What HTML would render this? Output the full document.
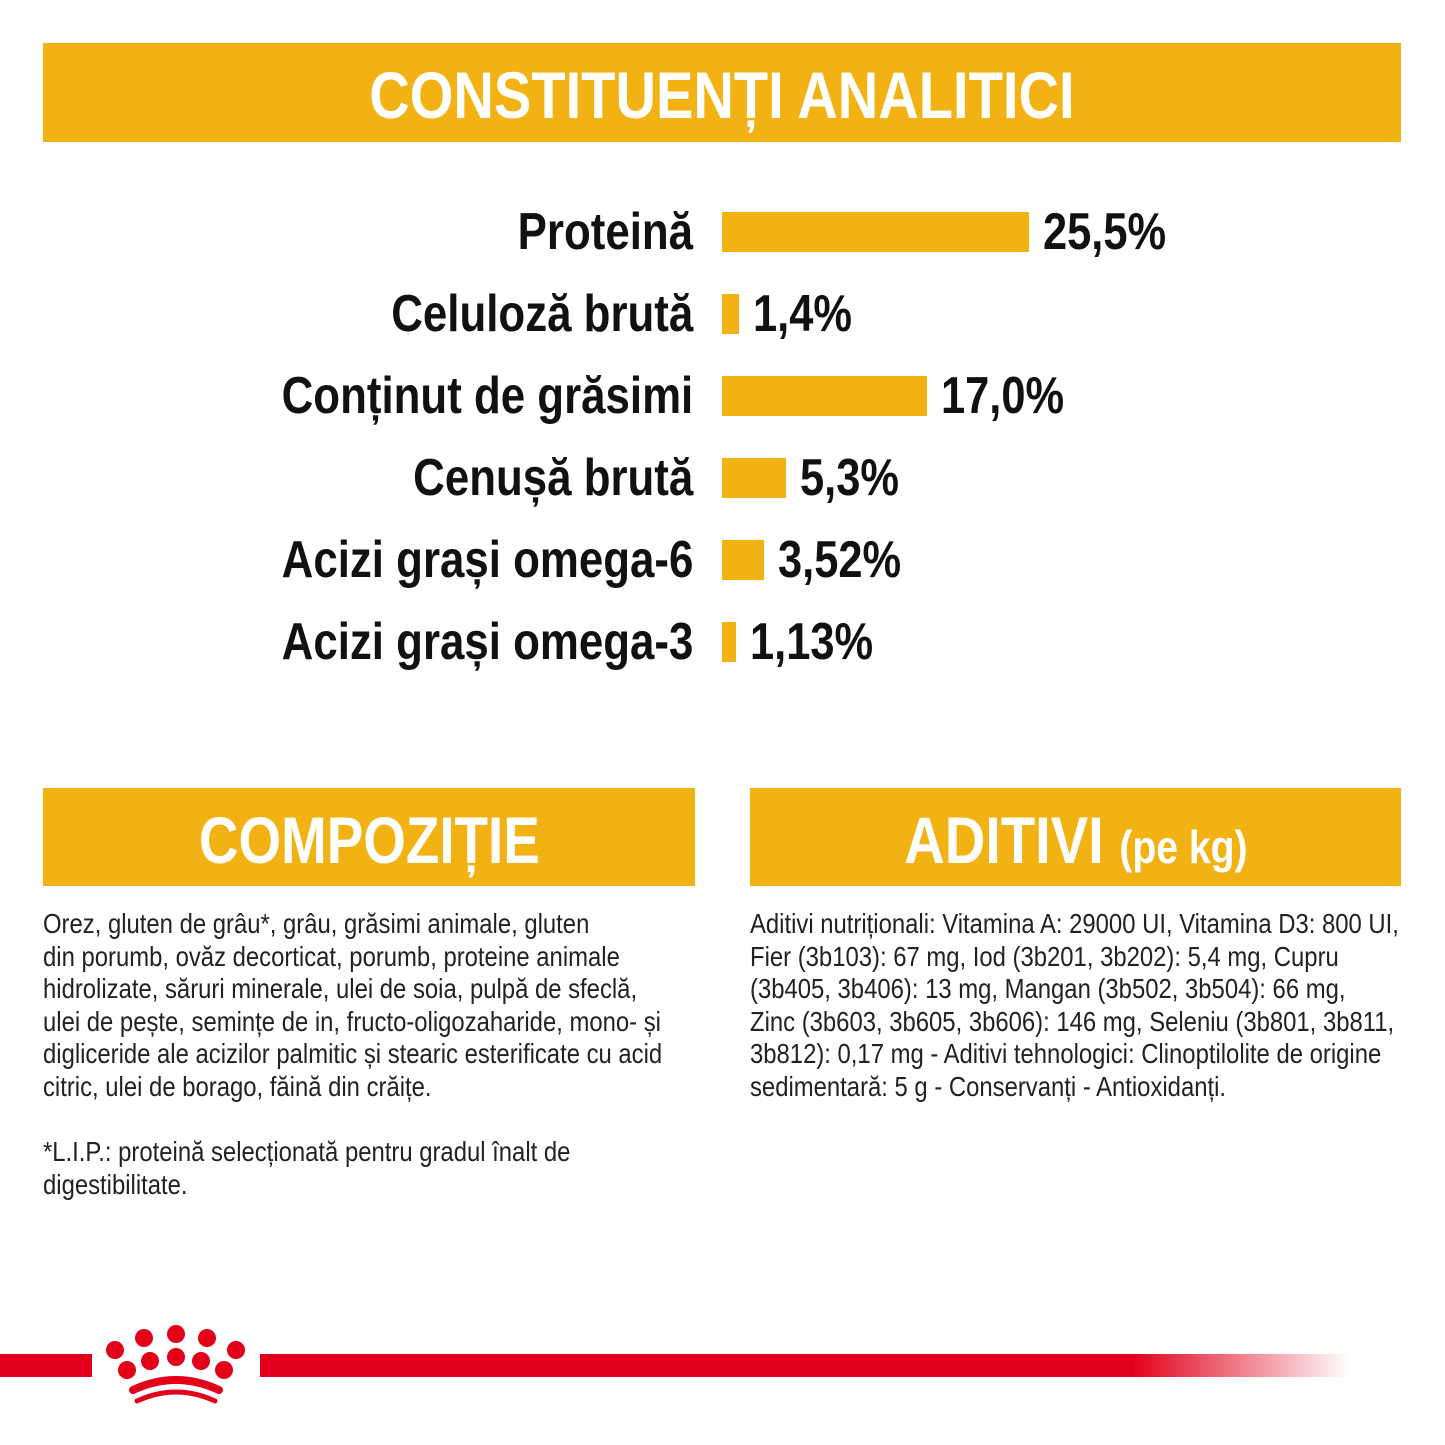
<!DOCTYPE html>
<html><head><meta charset="utf-8"><style>
body{margin:0;width:1445px;height:1445px;background:#fff;position:relative;overflow:hidden;font-family:"Liberation Sans",sans-serif;}
.band{position:absolute;background:#f2b213;color:#fff;font-weight:bold;text-align:center;}
.band span.s{display:inline-block;transform:scaleX(0.85);transform-origin:center;white-space:nowrap}
.lbl{position:absolute;right:752px;font-weight:bold;font-size:52px;color:#111;white-space:nowrap;line-height:50px;transform:scaleX(0.843);transform-origin:right center}
.val{position:absolute;font-weight:bold;font-size:52px;color:#111;white-space:nowrap;line-height:50px;transform:scaleX(0.835);transform-origin:left center}
.bar{position:absolute;background:#f2b213;height:40px}
.txt{position:absolute;font-size:28px;line-height:32.6px;color:#222;white-space:nowrap;transform:scaleX(0.852);transform-origin:left top}
</style></head><body>
<div class="band" style="left:43px;top:43px;width:1358px;height:99px;font-size:66px;line-height:104px"><span class="s">CONSTITUENȚI ANALITICI</span></div>
<div id="chart"></div>
<div class="band" style="left:43px;top:788px;width:652px;height:98px;font-size:66px;line-height:104px"><span class="s" style="transform:scaleX(0.83)">COMPOZIȚIE</span></div>
<div class="band" style="left:750px;top:788px;width:651px;height:98px;font-size:66px;line-height:104px"><span class="s">ADITIVI <span style="font-size:46px">(pe kg)</span></span></div>
<div class="txt" style="left:43px;top:908px">Orez, gluten de grâu*, grâu, grăsimi animale, gluten<br>din porumb, ovăz decorticat, porumb, proteine animale<br>hidrolizate, săruri minerale, ulei de soia, pulpă de sfeclă,<br>ulei de pește, semințe de in, fructo-oligozaharide, mono- și<br>digliceride ale acizilor palmitic și stearic esterificate cu acid<br>citric, ulei de borago, făină din crăițe.<br><br>*L.I.P.: proteină selecționată pentru gradul înalt de<br>digestibilitate.</div>
<div class="txt" style="left:750px;top:908px">Aditivi nutriționali: Vitamina A: 29000 UI, Vitamina D3: 800 UI,<br>Fier (3b103): 67 mg, Iod (3b201, 3b202): 5,4 mg, Cupru<br>(3b405, 3b406): 13 mg, Mangan (3b502, 3b504): 66 mg,<br>Zinc (3b603, 3b605, 3b606): 146 mg, Seleniu (3b801, 3b811,<br>3b812): 0,17 mg - Aditivi tehnologici: Clinoptilolite de origine<br>sedimentară: 5 g - Conservanți - Antioxidanți.</div>
<svg style="position:absolute;left:0;top:1310px" width="1445" height="100">
<defs><linearGradient id="g" x1="0" x2="1"><stop offset="0.8" stop-color="#e2001a"/><stop offset="1" stop-color="#e2001a" stop-opacity="0"/></linearGradient></defs>
<rect x="0" y="44" width="92" height="23" fill="#e2001a"/>
<rect x="260" y="44" width="1090" height="23" fill="url(#g)"/>
<g fill="#e2001a">
<circle cx="115" cy="40" r="9"/><circle cx="144" cy="28" r="9"/><circle cx="176" cy="24" r="9"/><circle cx="207" cy="28" r="9"/><circle cx="236" cy="40" r="9"/>
<circle cx="127" cy="60" r="9"/><circle cx="150" cy="51" r="9"/><circle cx="176" cy="47" r="9"/><circle cx="201" cy="51" r="9"/><circle cx="224" cy="60" r="9"/>
</g>
<path d="M133 80 Q176 60 219 80" stroke="#e2001a" stroke-width="8" fill="none" stroke-linecap="round"/>
<path d="M137 91 Q176 73 215 91" stroke="#e2001a" stroke-width="5" fill="none" stroke-linecap="round"/>
</svg>
<script>
const labels=["Proteină","Celuloză brută","Conținut de grăsimi","Cenușă brută","Acizi grași omega-6","Acizi grași omega-3"];
const values=[25.5,1.4,17.0,5.3,3.52,1.13];
const valueText=["25,5%","1,4%","17,0%","5,3%","3,52%","1,13%"];
const chart=document.getElementById('chart');
const x0=722,scale=12.04,y0=232,step=82;
function xs(v){return v*scale;}
function ys(i){return y0+i*step;}
labels.forEach((l,i)=>{
 const lb=document.createElement('div');lb.className='lbl';lb.textContent=l;lb.style.top=(ys(i)-25)+'px';
 
 
 chart.appendChild(lb);
 const b=document.createElement('div');b.className='bar';b.style.left=x0+'px';b.style.top=(ys(i)-20)+'px';b.style.width=xs(values[i])+'px';
 
 
 chart.appendChild(b);
 const v=document.createElement('div');v.className='val';v.textContent=valueText[i];v.style.left=(x0+xs(values[i])+14)+'px';v.style.top=(ys(i)-25)+'px';
 
 
 chart.appendChild(v);
});
</script>
</body></html>
